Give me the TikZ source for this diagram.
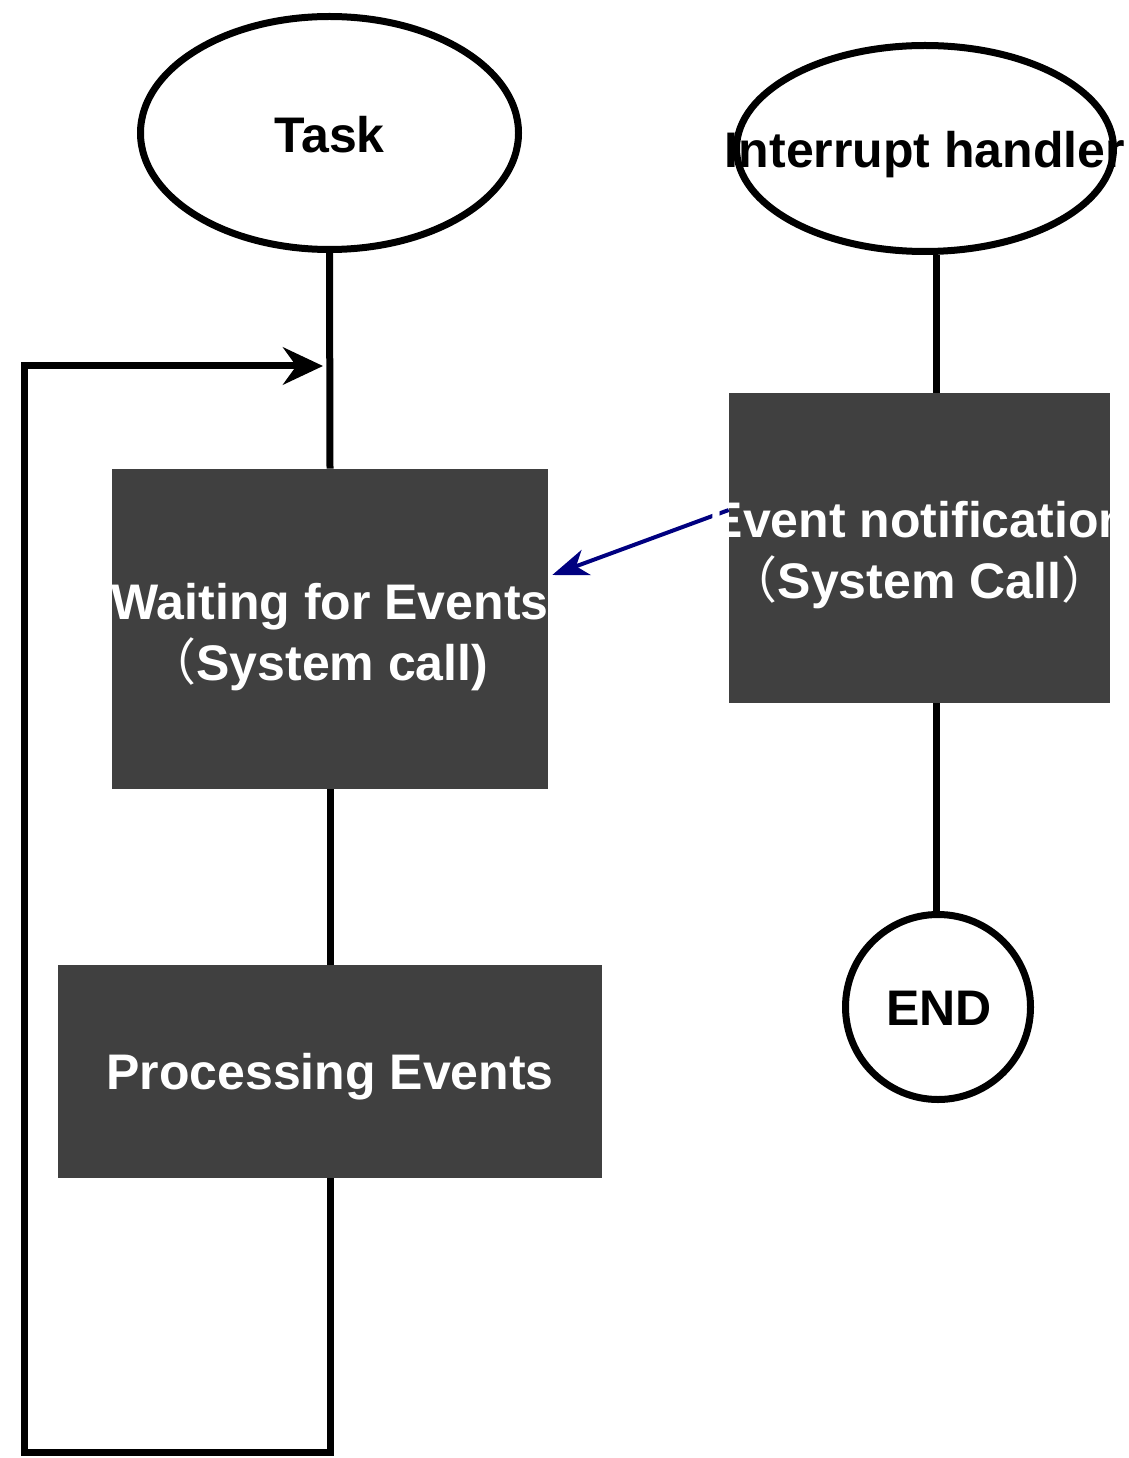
\documentclass[tikz,border=0pt]{standalone}
\usepackage{fontspec}
\setmainfont{Liberation Sans}
\newfontfamily\cjk{Noto Sans CJK SC}
\usetikzlibrary{shapes.geometric,arrows.meta,calc}
\definecolor{boxgray}{RGB}{64,64,64}
\definecolor{navyblue}{RGB}{0,0,128}
\newcommand{\fwl}{{\cjk\mdseries （}}
\newcommand{\fwr}{{\cjk\mdseries ）}}
\tikzset{
  flow/.style={line width=5.25pt},
  oval/.style={draw, ellipse, line width=5.25pt, inner sep=0pt, fill=white},
  darkbox/.style={fill=boxgray, inner sep=0pt, draw=none},
  boxtext/.style={text=white, font=\bfseries\fontsize{37.5pt}{45.75pt}\selectfont, align=center, inner sep=0pt},
  ovaltext/.style={text=black, font=\bfseries\fontsize{37.5pt}{45.75pt}\selectfont, align=center, inner sep=0pt},
  endcirc/.style={draw, circle, line width=5.25pt, inner sep=0pt, fill=white}
}
\begin{document}
\begin{tikzpicture}[x=0.75pt,y=-0.75pt]
\useasboundingbox (0,0) rectangle (1128,1458);
% shapes
\node[oval, minimum width=283.5pt, minimum height=174.75pt] (task) at (329.5,133) {};
\node[oval, minimum width=282.75pt, minimum height=154.5pt] (ih) at (925,148.5) {};
\node[darkbox, minimum width=327pt, minimum height=240pt] (wait) at (330,629) {};
\node[darkbox, minimum width=408pt, minimum height=159.75pt] (proc) at (330,1071.5) {};
\node[darkbox, minimum width=285.75pt, minimum height=232.5pt] (ev) at (919.5,548) {};
\node[endcirc, minimum size=138.75pt] (endc) at (938,1007) {};
% loop coordinates
\coordinate (lb) at (24,1452);
\coordinate (lt) at (24,366);
\coordinate (tip) at (323,366);
\coordinate (ra) at (936,0);
% connectors
\draw[flow] (task.south) -- (wait.north);
\draw[flow] (wait.south) -- (proc.north);
\draw[flow, -{Stealth[length=30pt,width=28pt,inset=10pt]}] (proc.south) -- (proc.south |- lb) -- (lb) -- (lt) -- (tip);
\draw[flow] (ra |- ih.south) -- (ra |- ev.north);
\draw[flow] (ra |- ev.south) -- (ra |- endc.north);
\draw[line width=3pt, navyblue, -{Stealth[length=27pt,width=20pt,inset=8pt]}] ($(ev.west)+(0,-38)$) -- ($(wait.east)+(4,-54)$);
% texts
\node[ovaltext] (taskT) at ($(task.center)+(0,2)$) {Task};
\node[ovaltext] (ihT) at ($(ih.center)+(0,6)$) {Interrupt handler};
\node[boxtext] (waitT) at ($(wait.center)+(0,8)$) {Waiting for Events\\\fwl System call)\hspace*{19pt}};
\node[boxtext] (procT) at ($(proc.center)+(0,5)$) {Processing Events};
\node[boxtext] (evT) at ($(ev.center)+(0,7)$) {Event notification\\\fwl System Call\fwr};
\node[ovaltext] (endT) at ($(endc.center)+(1,1)$) {END};
\end{tikzpicture}
\end{document}
